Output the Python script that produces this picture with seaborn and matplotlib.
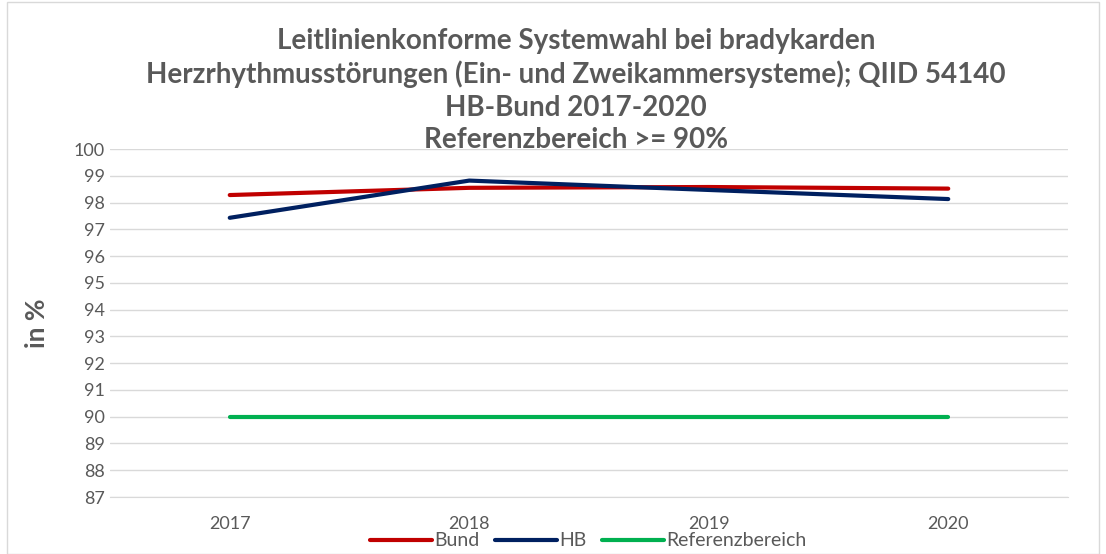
import pandas as pd
import matplotlib.pyplot as plt
import seaborn as sns
from matplotlib.patches import Rectangle

years = ['2017', '2018', '2019', '2020']
bund = [98.28, 98.55, 98.58, 98.52]
hb = [97.43, 98.82, 98.47, 98.13]
referenz = [90, 90, 90, 90]

df = pd.DataFrame({
    'Jahr': years * 3,
    'Wert': bund + hb + referenz,
    'Serie': ['Bund'] * 4 + ['HB'] * 4 + ['Referenzbereich'] * 4,
})

sns.set_style('white')
plt.rcParams['font.family'] = ['Lato', 'DejaVu Sans']
grey = '#595959'

fig = plt.figure(figsize=(11.06, 5.54), dpi=100)
ax = fig.add_axes([110 / 1106, 1 - 497 / 554, (1068 - 110) / 1106, (497 - 149) / 554])

pal = {'Bund': '#C00000', 'HB': '#002060', 'Referenzbereich': '#00B050'}
sns.lineplot(data=df, x='Jahr', y='Wert', hue='Serie', palette=pal, linewidth=3,
             sort=False, ax=ax, legend=False)

ax.set_xlim(-0.5, 3.5)
ax.set_ylim(87, 100)
ax.set_yticks(range(87, 101))
ax.yaxis.grid(True, color='#d9d9d9', linewidth=1)
ax.set_axisbelow(True)
for s in ['top', 'right', 'left']:
    ax.spines[s].set_visible(False)
ax.spines['bottom'].set_color('#d9d9d9')
ax.tick_params(axis='both', colors=grey, labelsize=13, length=0)
ax.tick_params(axis='x', pad=14)
ax.set_xlabel('')
ax.set_ylabel('in %', fontsize=19, fontweight='bold', color=grey, labelpad=18)

# title, four lines
fig.text(576 / 1106, 1 - 28 / 554,
         'Leitlinienkonforme Systemwahl bei bradykarden\n'
         'Herzrhythmusstörungen (Ein- und Zweikammersysteme); QIID 54140\n'
         'HB-Bund 2017-2020\n'
         'Referenzbereich >= 90%',
         ha='center', va='top', fontsize=20, fontweight='bold', color=grey,
         linespacing=1.3)

handles = [plt.Line2D([], [], color=pal[k], linewidth=3) for k in pal]
fig.legend(handles, list(pal.keys()), loc='center', bbox_to_anchor=(0.532, 1 - 541 / 554),
           ncol=3, frameon=False, fontsize=14, labelcolor=grey, handlelength=3.2,
           handletextpad=0.1, columnspacing=0.8)

fig.patches.append(Rectangle((7 / 1106, 0), 1 - 14 / 1106, 1 - 2 / 554, transform=fig.transFigure,
                             fill=False, edgecolor='#d9d9d9', linewidth=1))

fig.savefig('out.png', dpi=100)
